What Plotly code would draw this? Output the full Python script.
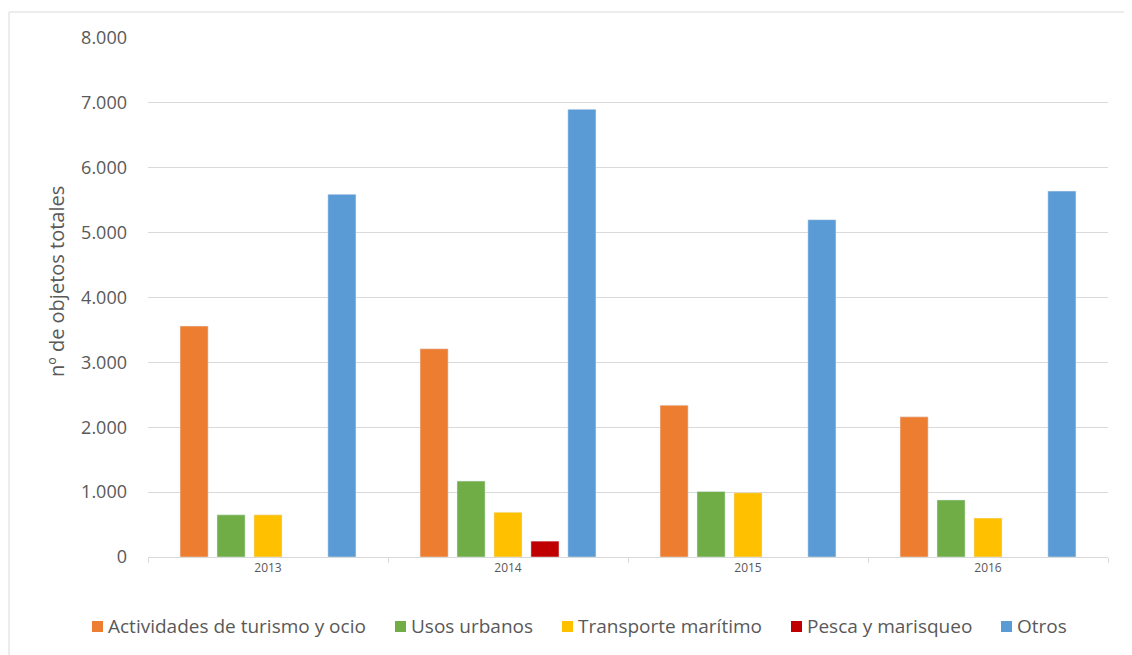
import plotly.graph_objects as go

# años y series (nº de objetos totales)
anios = ["2013", "2014", "2015", "2016"]
turismo = [3560, 3210, 2340, 2160]
urbanos = [650, 1170, 1010, 880]
transporte = [650, 690, 990, 600]
pesca = [None, 245, None, None]
otros = [5590, 6900, 5200, 5640]

nombres = ["Actividades de turismo y ocio", "Usos urbanos", "Transporte marítimo",
           "Pesca y marisqueo", "Otros"]
valores = [turismo, urbanos, transporte, pesca, otros]
colores = ["#ED7D31", "#70AD47", "#FFC000", "#C00000", "#5B9BD5"]

fig = go.Figure()
for nombre, vals, color in zip(nombres, valores, colores):
    fig.add_trace(go.Bar(x=anios, y=vals, name=nombre, marker_color=color))

gris = "#595959"
# la página tiene 8px de margen en el body
fig.update_layout(
    width=1124, height=647,
    margin=dict(l=140, r=24, t=30, b=98),
    paper_bgcolor="white", plot_bgcolor="white",
    barmode="group", bargap=0.23, bargroupgap=0.24,
    separators=",.",
    font=dict(family="Open Sans", color=gris),
    showlegend=False,
)
fig.update_yaxes(range=[0, 8000], dtick=1000, tickformat=",d",
                 gridcolor="#D9D9D9", zeroline=False, showline=False,
                 tickfont=dict(size=18, color=gris), ticks="", ticklabelstandoff=20)
fig.update_xaxes(showline=True, linecolor="#D9D9D9", tickson="boundaries",
                 ticks="outside", ticklen=5, tickcolor="#D9D9D9",
                 tickfont=dict(size=12, color=gris))

# pixeles (ventana) -> coordenadas paper
def px_x(v):
    return (v - 148) / 960

def px_y(v):
    return (557 - v) / 519

# título del eje y
fig.add_annotation(text="nº de objetos totales", xref="paper", yref="paper",
                   x=px_x(56), y=px_y(282), xanchor="center", yanchor="middle",
                   textangle=-90, showarrow=False, font=dict(size=20, color=gris))

# leyenda a mano, como en el original
cuadros = [92, 395, 562, 791, 1001]
for nombre, color, xc in zip(nombres, colores, cuadros):
    fig.add_shape(type="rect", xref="paper", yref="paper",
                  x0=px_x(xc), x1=px_x(xc + 11), y0=px_y(632), y1=px_y(621),
                  fillcolor=color, line=dict(width=0))
    fig.add_annotation(text=nombre, xref="paper", yref="paper",
                       x=px_x(xc + 14), y=px_y(626), xanchor="left", yanchor="middle",
                       showarrow=False, font=dict(size=19, color=gris))

# marco exterior del gráfico (solo se ven el borde izquierdo y el superior)
fig.add_shape(type="rect", xref="paper", yref="paper",
              x0=px_x(9), x1=px_x(1200), y0=px_y(700), y1=px_y(12),
              line=dict(color="#D9D9D9", width=1), layer="below")

fig.write_html("out.html")
